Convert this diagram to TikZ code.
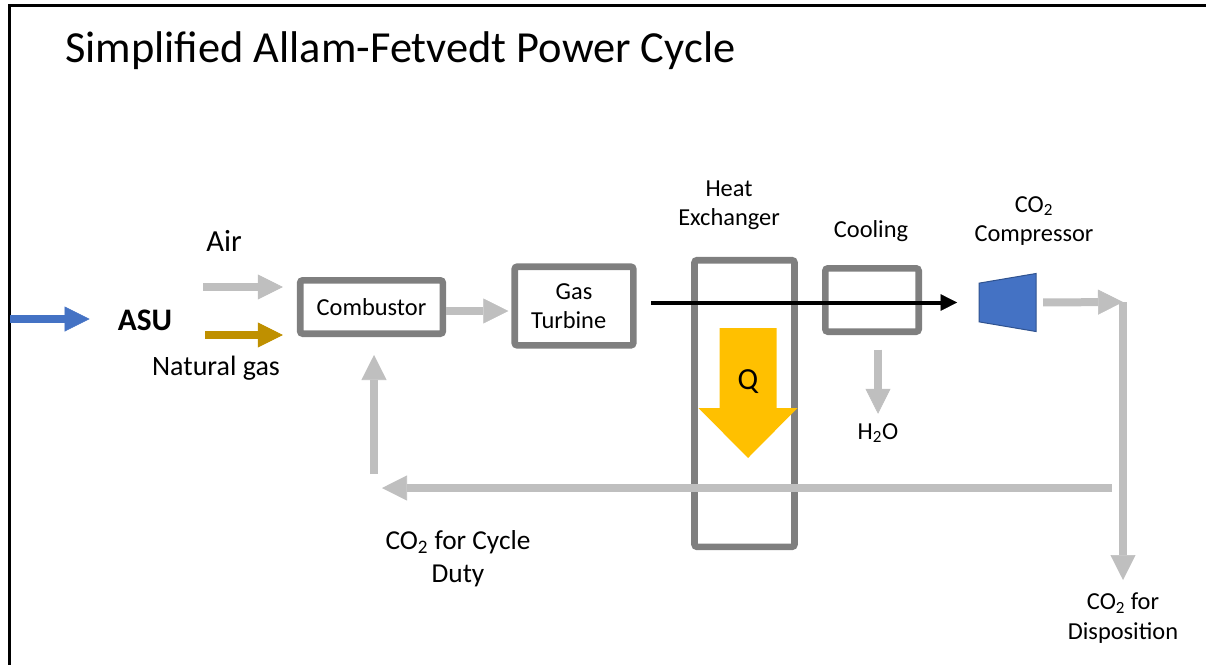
\documentclass[tikz,border=0pt]{standalone}
\usepackage{fontspec}
\setmainfont{Carlito}
\usepackage{tikz}
\usepackage{xcolor}
\usetikzlibrary{shapes,arrows.meta,positioning,calc}
\definecolor{PlantBlue}{HTML}{4472C4}
\definecolor{PlantBlueDark}{HTML}{2F528F}
\definecolor{PlantGold}{HTML}{BF9000}
\definecolor{PlantGray}{HTML}{7F7F7F}
\definecolor{PlantLightGray}{HTML}{BFBFBF}
\definecolor{PlantYellow}{HTML}{FFC000}
\definecolor{PlantBlack}{HTML}{000000}
\tikzset{
    % Base text style
    basetext/.style={
        align=center,
        inner sep=0pt,
        text=PlantBlack,
        font=\fontsize{18.3}{22}\selectfont
    },
    % Title text
    titletext/.style={
        basetext,
        font=\fontsize{33.3}{40}\selectfont
    },
    % Larger labels
    bigtext/.style={
        basetext,
        font=\fontsize{23}{27}\selectfont
    },
    % Feed label
    feedtext/.style={
        basetext,
        font=\fontsize{23.5}{27}\selectfont\bfseries
    },
    % Process unit box
    unitbox/.style={
        draw=PlantGray,
        line width=5pt,
        rounded corners=2pt,
        align=center,
        font=\fontsize{18.3}{22}\selectfont
    },
    % Compressor
    compnode/.style={
        trapezium,
        shape border rotate=90,
        trapezium left angle=76,
        trapezium right angle=76,
        trapezium stretches=true,
        minimum width=43.5pt,
        minimum height=42.75pt,
        inner sep=1pt,
        fill=PlantBlue,
        draw=PlantBlueDark,
        line width=0.75pt
    },
    % Frame line
    framestyle/.style={
        line width=2.25pt,
        draw=PlantBlack
    },
    % Gray process stream
    flowarrow/.style={
        -{Triangle[length=18.75pt,width=18.75pt,line width=0.4pt]},
        line width=6pt,
        draw=PlantLightGray
    },
    % Feed streams
    bluearrow/.style={
        flowarrow,
        draw=PlantBlue
    },
    goldarrow/.style={
        flowarrow,
        draw=PlantGold
    },
    % Hot gas stream
    blackarrow/.style={
        -{Triangle[length=12.5pt,width=12.5pt,line width=0.4pt]},
        line width=3pt,
        draw=PlantBlack
    },
    % Heat duty
    qarrow/.style={
        fill=PlantYellow
    }
}

\begin{document}
\begin{tikzpicture}[x=0.75pt, y=-0.75pt]
        \useasboundingbox (0,0) rectangle (1206,665);

        % Frame and title
        \draw[framestyle] (1206,5.5) -- (9.5,5.5) -- (9.5,665);
        \node[titletext, anchor=base west] (title) at (65,62) {Simplified Allam-Fetvedt Power Cycle};

        % Process units
        \node[unitbox, minimum width=107pt, minimum height=40pt] (comb) at (371.5,307) {Combustor};
        \node[unitbox, minimum width=89pt, minimum height=59pt] (turb) at (574,306) {Gas\\Turbine\hspace*{8pt}};
        \node[unitbox, minimum width=75pt, minimum height=215pt] (hx) at (744.5,403.5) {};
        \node[unitbox, minimum width=70pt, minimum height=47.5pt] (cool) at (872,300) {};
        \node[compnode] (comp) at (1007.5,302.5) {};

        % Labels
        \node[feedtext] (asu) at (145,320) {ASU};
        \node[bigtext] (air) at (224,241) {Air};
        \node[basetext, font=\fontsize{21}{25}\selectfont] (ng) at (216,368) {Natural gas};
        \node[basetext] (hxlabel) at (729,205) {Heat\\Exchanger};
        \node[basetext] (coollabel) at (871,231) {Cooling};
        \node[basetext] (complabel) at (1034,221) {CO\textsubscript{2}\\Compressor};
        \node[basetext] (h2o) at (878,433) {H\textsubscript{2}O};
        \node[basetext, font=\fontsize{20.5}{25}\selectfont] (cycle) at (458,559) {CO\textsubscript{2} for Cycle\\Duty};
        \node[basetext] (disp) at (1123,618) {CO\textsubscript{2} for\\Disposition};

        % Stream points
        \coordinate (feed) at (10,319);
        \coordinate (airin) at (203,287);
        \coordinate (ngin) at (205,335);
        \coordinate (split) at (1123,302);
        \coordinate (dispend) at (1123,580);
        \coordinate (retR) at (1112,488);
        \coordinate (retL) at (374,488);

        % Streams
        \draw[bluearrow] (feed) -- (feed -| asu.west) [shorten >=21pt];
        \draw[flowarrow] (airin) -- (airin -| comb.west) [shorten >=10.5pt];
        \draw[goldarrow] (ngin) -- (ngin -| comb.west) [shorten >=10.5pt];
        \draw[flowarrow] ([yshift=-3pt]comb.east) -- ([yshift=-3pt]comb.east -| turb.west) [shorten >=2.25pt];
        \draw[blackarrow] (turb.east |- comp.180) -- (comp.180) [shorten <=11pt, shorten >=16pt];
        \draw[flowarrow] (comp.0) -- (split) [shorten <=5pt];
        \draw[flowarrow] (split) -- (dispend);
        \draw[flowarrow] (retR) -- (retL) [shorten >=6pt];
        \draw[flowarrow] (retL) -- (retL |- comb.south) [shorten <=10.5pt, shorten >=13.5pt];
        \draw[flowarrow] (h2o.north |- cool.south) -- (h2o.north) [shorten <=11pt, shorten >=7pt];

        % Heat duty
        \fill[qarrow] (719.5,328) -- (776.5,328) -- (776.5,408) -- (797.5,408) -- (748,458) -- (698.5,408) -- (719.5,408) -- cycle;
        \node[bigtext] (q) at (748,382) {Q};
    \end{tikzpicture}
\end{document}
